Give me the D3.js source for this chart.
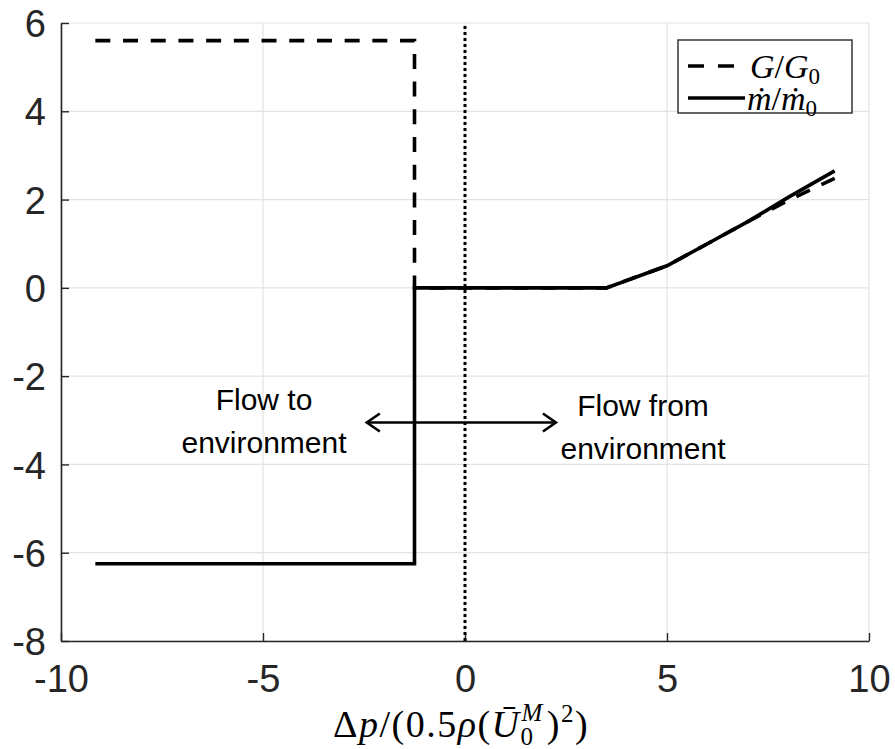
<!DOCTYPE html>
<html>
<head>
<meta charset="utf-8">
<script src="https://cdn.jsdelivr.net/npm/d3@7/dist/d3.min.js"></script>
<style>
  body { margin: 0; background: #fff; }
  svg { display: block; }
</style>
</head>
<body>
<svg id="chart" width="895" height="749"></svg>
<script>
// ---- data ----
const xTicks = [-10, -5, 0, 5, 10];
const yTicks = [-8, -6, -4, -2, 0, 2, 4, 6];
// G/G0 (dashed)
const gX = [-9.15, -1.25, -1.25, 3.5, 5.0, 6.0, 7.0, 8.0, 9.15];
const gY = [5.6, 5.6, 0.0, 0.0, 0.5, 1.0, 1.5, 1.98, 2.48];
// mdot/mdot0 (solid)
const mX = [-9.15, -1.25, -1.25, 3.5, 5.0, 6.0, 7.0, 8.0, 9.15];
const mY = [-6.25, -6.25, 0.0, 0.0, 0.5, 1.0, 1.5, 2.05, 2.65];
// reference line and annotation arrow
const refX = [0, 0];
const refY = [-8, 6];
const arrowX = [-2.43, 2.25];
const arrowY = [-3.05, -3.05];

const svg = d3.select("#chart");
const x = d3.scaleLinear().domain([-10, 10]).range([61, 869]);
const y = d3.scaleLinear().domain([-8, 6]).range([641, 23]);

const sansFont = "'Liberation Sans', Arial, sans-serif";
const serifFont = "'Liberation Serif', 'Times New Roman', serif";

// grid
const grid = svg.append("g");
grid.selectAll(".gx").data(xTicks).join("line")
  .attr("x1", d => x(d)).attr("x2", d => x(d))
  .attr("y1", y(-8)).attr("y2", y(6))
  .attr("stroke", "#e3e3e3").attr("stroke-width", 1.2);
grid.selectAll(".gy").data(yTicks).join("line")
  .attr("x1", x(-10)).attr("x2", x(10))
  .attr("y1", d => y(d)).attr("y2", d => y(d))
  .attr("stroke", "#e3e3e3").attr("stroke-width", 1.2);

// axes
const fmt = d => String(d);
const xAxis = d3.axisBottom(x).tickValues(xTicks).tickFormat(fmt).tickSizeInner(-8).tickSizeOuter(0).tickPadding(24);
const yAxis = d3.axisLeft(y).tickValues(yTicks).tickFormat(fmt).tickSizeInner(-8).tickSizeOuter(0).tickPadding(15);

const gxA = svg.append("g").attr("transform", `translate(0,${y(-8)})`).call(xAxis);
const gyA = svg.append("g").attr("transform", `translate(${x(-10)},0)`).call(yAxis);
[gxA, gyA].forEach(g => {
  g.select(".domain").attr("stroke", "#262626").attr("stroke-width", 1.6);
  g.selectAll(".tick line").attr("stroke", "#262626").attr("stroke-width", 1.4);
  g.selectAll(".tick text").attr("fill", "#262626")
    .style("font-family", sansFont).style("font-size", "38px");
});
gxA.selectAll(".tick text").attr("dy", "0.71em");
gyA.selectAll(".tick text").attr("dy", "0.36em");

// reference dotted line at x=0
const line = d3.line().x(d => x(d[0])).y(d => y(d[1]));
svg.append("path")
  .attr("d", line(refX.map((v, i) => [v, refY[i]])))
  .attr("fill", "none").attr("stroke", "#000").attr("stroke-width", 3)
  .attr("stroke-dasharray", "3,3");

// series
svg.append("path")
  .attr("d", line(gX.map((v, i) => [v, gY[i]])))
  .attr("fill", "none").attr("stroke", "#000").attr("stroke-width", 3.6)
  .attr("stroke-dasharray", "15,12.7");
svg.append("path")
  .attr("d", line(mX.map((v, i) => [v, mY[i]])))
  .attr("fill", "none").attr("stroke", "#000").attr("stroke-width", 3.6)
  .attr("stroke-linejoin", "miter");

// arrow
const ax1 = x(arrowX[0]), ax2 = x(arrowX[1]), ay = y(arrowY[0]);
svg.append("line").attr("x1", ax1).attr("x2", ax2).attr("y1", ay).attr("y2", ay)
  .attr("stroke", "#000").attr("stroke-width", 2.6);
svg.append("path").attr("d", `M${ax1 + 13},${ay - 9} L${ax1},${ay} L${ax1 + 13},${ay + 9}`)
  .attr("fill", "none").attr("stroke", "#000").attr("stroke-width", 2.6);
svg.append("path").attr("d", `M${ax2 - 13},${ay - 9} L${ax2},${ay} L${ax2 - 13},${ay + 9}`)
  .attr("fill", "none").attr("stroke", "#000").attr("stroke-width", 2.6);

// annotation text
function para(cx, lines, baseline) {
  lines.forEach((s, i) => {
    svg.append("text").attr("text-anchor", "middle")
      .style("font-family", sansFont).style("font-size", "30px").attr("fill", "#000")
      .attr("x", cx).attr("y", baseline + i * 43).text(s);
  });
}
para(264, ["Flow to", "environment"], 410);
para(643, ["Flow from", "environment"], 416);

// legend
const lg = svg.append("g");
lg.append("rect").attr("x", 678).attr("y", 40).attr("width", 174).attr("height", 73)
  .attr("fill", "#fff").attr("stroke", "#262626").attr("stroke-width", 1.4);
lg.append("line").attr("x1", 688).attr("x2", 735).attr("y1", 66).attr("y2", 66)
  .attr("stroke", "#000").attr("stroke-width", 3.6).attr("stroke-dasharray", "16,14");
lg.append("line").attr("x1", 688).attr("x2", 745).attr("y1", 98).attr("y2", 98)
  .attr("stroke", "#000").attr("stroke-width", 3.6);
function legText(xp, yp, a, b) {
  const t = lg.append("text").attr("x", xp).attr("y", yp)
    .style("font-family", serifFont).style("font-size", "34px").attr("fill", "#000");
  t.append("tspan").style("font-style", "italic").text(a);
  t.append("tspan").text("/");
  t.append("tspan").style("font-style", "italic").text(b);
  t.append("tspan").attr("dy", 6).style("font-size", "23px").text("0");
}
legText(750, 78, "G", "G");
legText(747, 110, "ṁ", "ṁ");

// x label
const xl = svg.append("text").attr("x", 333).attr("y", 737)
  .style("font-family", serifFont).style("font-size", "38px")
  .style("letter-spacing", "1.5px").attr("fill", "#000");
xl.append("tspan").text("Δ");
xl.append("tspan").style("font-style", "italic").text("p");
xl.append("tspan").text("/(0.5");
xl.append("tspan").style("font-style", "italic").text("ρ");
xl.append("tspan").text("(");
xl.append("tspan").style("font-style", "italic").text("Ū");
xl.append("tspan").attr("dy", 8).style("font-size", "25px").text("0");
xl.append("tspan").attr("dx", -13).attr("dy", -24).style("font-size", "25px").style("font-style", "italic").text("M");
xl.append("tspan").attr("dx", 3).attr("dy", 16).text(")");
xl.append("tspan").attr("dy", -15).style("font-size", "25px").text("2");
xl.append("tspan").attr("dy", 15).text(")");
</script>
</body>
</html>
